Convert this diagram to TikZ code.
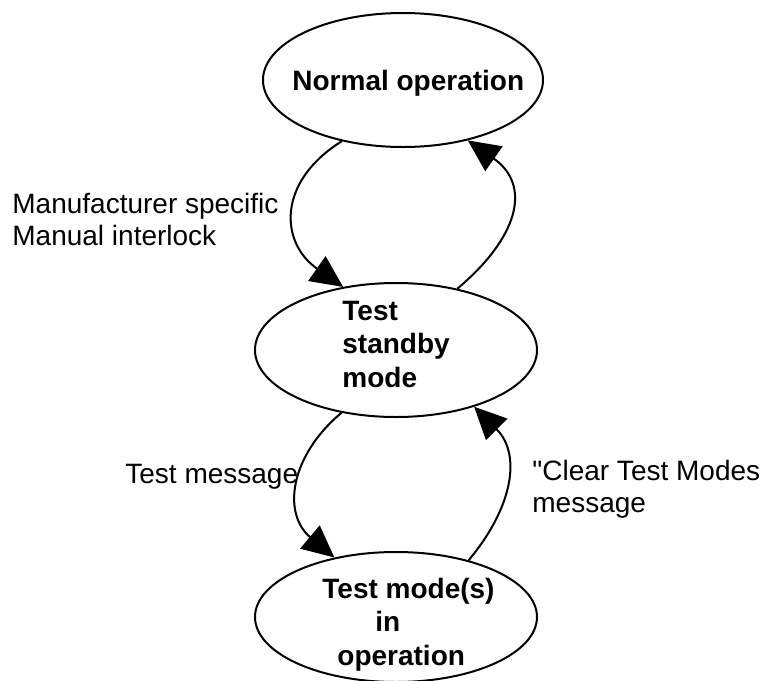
\documentclass[tikz,border=0pt]{standalone}
\usepackage{fontspec}
\setmainfont{Liberation Sans}[Ligatures=TeXOff]
\usetikzlibrary{shapes.geometric,arrows.meta}

\begin{document}
\begin{tikzpicture}[x=0.5pt, y=-0.5pt, >={Triangle[length=16pt,width=15pt]},
  font=\fontsize{14}{16}\selectfont,
  state/.style={draw, ellipse, line width=1pt, inner sep=0pt},
  statetext/.style={font=\fontsize{14}{16.75}\selectfont\bfseries, align=left,
    anchor=base west, inner sep=0pt},
  edgetext/.style={align=left, anchor=base west, inner sep=0pt},
  trans/.style={->, line width=1pt}]
  \useasboundingbox (0,0) rectangle (762,681);
  % === Stavy ===
  \node[state, minimum width=140pt, minimum height=67pt] (normal) at (403,80) {};
  \node[state, minimum width=141pt, minimum height=67pt] (standby) at (396,350) {};
  \node[state, minimum width=141pt, minimum height=65pt] (testmode) at (396,617) {};
  % base = posledni radek
  \node[statetext] (normaltxt) at (292,90) {Normal operation};
  \node[statetext] (standbytxt) at (342,387) {Test\\standby\\mode};
  \node[statetext] (testmodetxt) at (322,665)
    {Test mode(s)\\\hspace*{26.5pt}in\\\hspace*{7.5pt}operation};
  % === Prechody ===
  \draw[trans] (normal.225) to[out=212, in=145, looseness=1.35] (standby.130);
  \draw[trans] (standby.45) to[out=40, in=-35, looseness=1.36] (normal.-43);
  \draw[trans] (standby.229) to[out=220, in=140, looseness=1.2] (testmode.136);
  \draw[trans] (testmode.38) to[out=50, in=-45, looseness=1.13] (standby.-36);
  % === Popisky ===
  \node[edgetext] (interlock) at (12,245) {Manufacturer specific\\Manual interlock};
  \node[edgetext] (testmsg) at (125,483) {Test message};
  \node[edgetext] (clearmsg) at (532,512) {"Clear Test Modes\\message};
\end{tikzpicture}
\end{document}
